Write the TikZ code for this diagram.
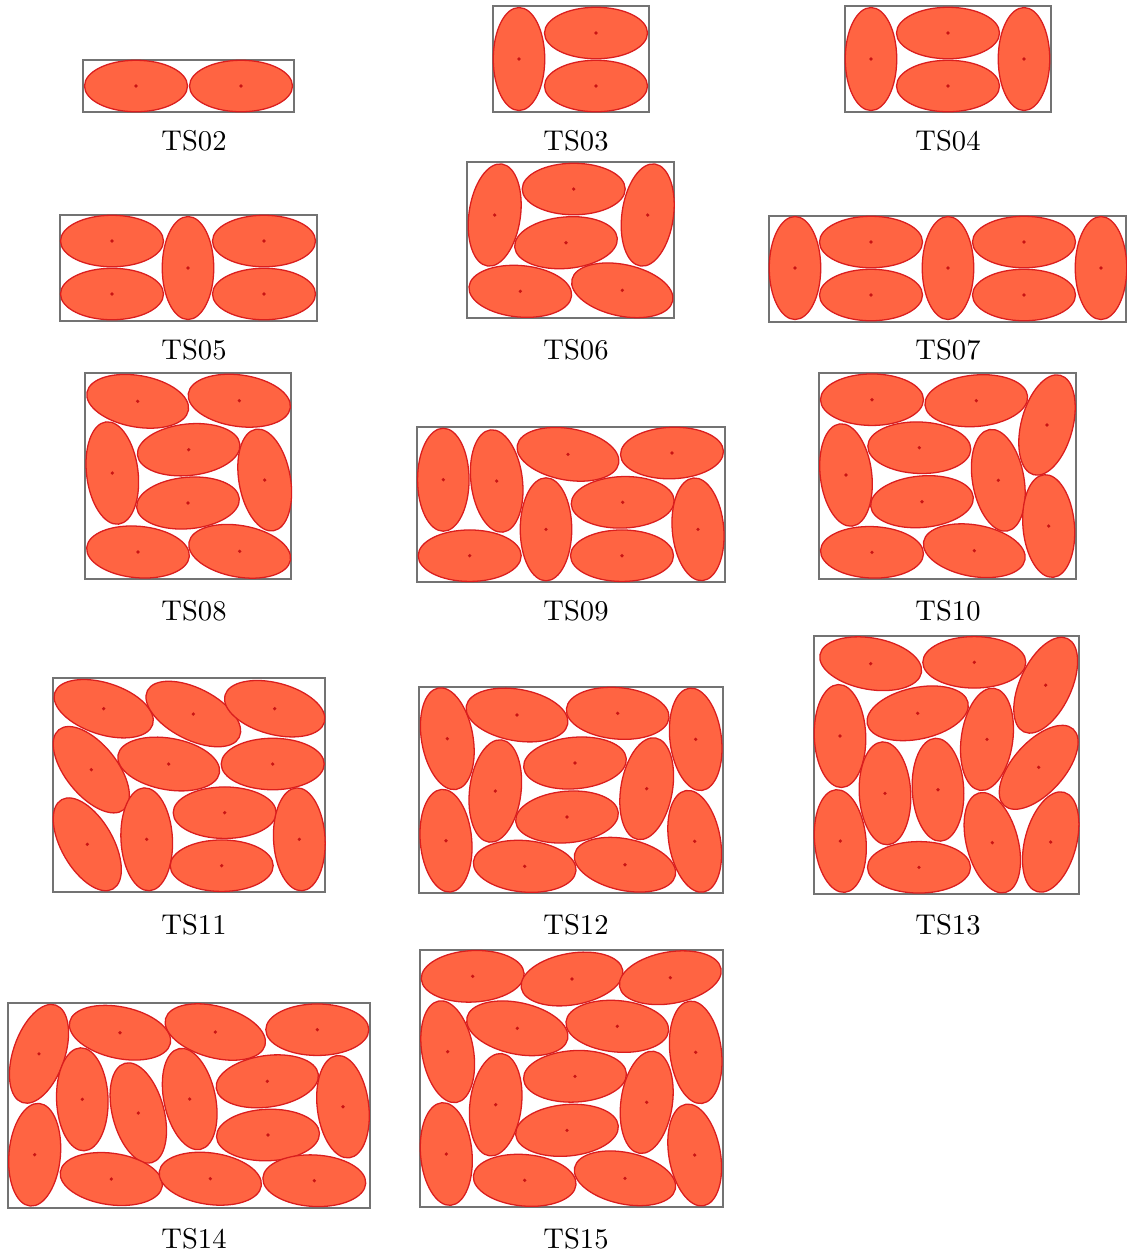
\documentclass[tikz,border=0pt]{standalone}
\usepackage{tikz}
\usetikzlibrary{positioning}

\definecolor{ellred}{RGB}{255,100,66}
\definecolor{ellrim}{RGB}{218,30,30}
\definecolor{ellcentre}{RGB}{200,20,20}

\tikzset{
  ellpiece/.style={fill=ellred, draw=ellrim, line width=0.45pt},
  centredot/.style={fill=ellcentre},
  container/.style={draw=black!55, line width=0.5pt},
  caption/.style={font=\normalsize, inner sep=1pt}
}

% one packed ellipse: centre x, centre y, angle of the long axis
\newcommand{\packell}[3]{%
  \filldraw[ellpiece, shift={(#1,#2)}, rotate=#3] (0,0) ellipse [x radius=51.5, y radius=25.75];
  \fill[centredot] (#1,#2) circle [radius=1.8];
}

\begin{document}
\begin{tikzpicture}[x=0.35pt, y=-0.35pt]
    \useasboundingbox (0,0) rectangle (1127,1256);

    % row 1
    \draw[container] (83,60) rectangle (294,112);
    \foreach \cx/\cy/\ang in {136/86/0, 241/86/0}
        {\packell{\cx}{\cy}{\ang}}
    \node[caption] (ts02) at (194,141) {TS02};

    \draw[container] (493,6) rectangle (649,112);
    \foreach \cx/\cy/\ang in {519/59/90, 596/33/0, 596/86/0}
        {\packell{\cx}{\cy}{\ang}}
    \node[caption] (ts03) at (576,141) {TS03};

    \draw[container] (845,6) rectangle (1051,112);
    \foreach \cx/\cy/\ang in {871/59/90, 1024/59/90, 948/33/0, 948/86/0}
        {\packell{\cx}{\cy}{\ang}}
    \node[caption] (ts04) at (948,141) {TS04};

    % row 2
    \draw[container] (60,215) rectangle (317,321);
    \foreach \cx/\cy/\ang in {112/241/0, 112/294/0, 264/241/0, 264/294/0, 188/268/90}
        {\packell{\cx}{\cy}{\ang}}
    \node[caption] (ts05) at (194,350) {TS05};

    \draw[container] (467,162) rectangle (674,318);
    \foreach \cx/\cy/\ang in {494.7/215/82, 573.7/189/0, 647.7/215/82, 566/242.7/5,
                              520.3/291.3/-5, 622.3/290.3/-12}
        {\packell{\cx}{\cy}{\ang}}
    \node[caption] (ts06) at (576,350) {TS06};

    \draw[container] (769,216) rectangle (1126,322);
    \foreach \cx/\cy/\ang in {795/268/90, 948/268/90, 1101/268/90, 871/242/0,
                              871/295/0, 1024/242/0, 1024/295/0}
        {\packell{\cx}{\cy}{\ang}}
    \node[caption] (ts07) at (948,350) {TS07};

    % row 3
    \draw[container] (85,373) rectangle (291,579);
    \foreach \cx/\cy/\ang in {137.7/401.3/-10, 239.3/400.7/-8, 112.3/473/97, 188.7/449.7/6,
                              188/503/5, 264.7/480/100, 138/552/-5, 239.7/551.3/-10}
        {\packell{\cx}{\cy}{\ang}}
    \node[caption] (ts08) at (194,611) {TS08};

    \draw[container] (417,427) rectangle (725,582);
    \foreach \cx/\cy/\ang in {443.3/479.7/90, 496.7/481/97, 568/454.3/-10, 672/453/2,
                              469.7/555.7/0, 546/529.3/90, 622.7/502.3/2, 622/555.7/0,
                              698/529.3/95}
        {\packell{\cx}{\cy}{\ang}}
    \node[caption] (ts09) at (576,611) {TS09};

    \draw[container] (819,373) rectangle (1076,579);
    \foreach \cx/\cy/\ang in {872/399.7/0, 976.3/400.7/5, 1047/425/75, 846/475/97,
                              919.3/447.7/-2, 922/501.7/5, 998.3/480.3/100, 1048.7/526/95,
                              872/552.3/-2, 974.3/550.7/-10}
        {\packell{\cx}{\cy}{\ang}}
    \node[caption] (ts10) at (948,611) {TS10};

    % row 4
    \draw[container] (53,678) rectangle (325,892);
    \foreach \cx/\cy/\ang in {103.7/708.7/-18, 193.3/714/-27, 274.7/708.7/-15, 91.3/769.7/-51,
                              168.7/764/-10, 272.7/764/0, 87.3/844.3/-60, 146.7/839.3/93,
                              224.7/812.7/0, 221.7/865.7/0, 299.3/839.3/93}
        {\packell{\cx}{\cy}{\ang}}
    \node[caption] (ts11) at (194,925) {TS11};

    \draw[container] (419,687) rectangle (723,893);
    \foreach \cx/\cy/\ang in {447.3/738.7/100, 517/715/-10, 617.7/713.3/-5, 695.7/739.3/97,
                              495.3/791/83, 575/763/5, 567/817/5, 646.7/788.7/80,
                              446/840.7/95, 524.7/866.3/-5, 625/864.7/-12, 694.7/841.3/100}
        {\packell{\cx}{\cy}{\ang}}
    \node[caption] (ts12) at (576,925) {TS12};

    \draw[container] (814,636) rectangle (1079,894);
    \foreach \cx/\cy/\ang in {870.7/663.7/-10, 974.3/662.3/0, 1045.7/685.2/65, 840/736/92,
                              917.7/713.3/12, 987/739.3/82, 1038.7/767.3/48, 885/793.3/93,
                              938/789.7/93, 840.3/841/95, 919/867.3/0, 992.3/842.7/105,
                              1050.7/842/75}
        {\packell{\cx}{\cy}{\ang}}
    \node[caption] (ts13) at (948,925) {TS13};

    % row 5
    \draw[container] (8,1003) rectangle (370,1208);
    \foreach \cx/\cy/\ang in {39/1053.8/71, 120/1032.7/-12, 215.3/1032/-15, 317.3/1029.7/0,
                              34.7/1154.7/85, 82.3/1099.3/92, 138.3/1113/105, 189.7/1099/102,
                              267.3/1081.3/8, 268/1135/2, 343/1106.7/97, 111.3/1179/-8,
                              210.3/1178.7/-8, 314.3/1180.7/-3}
        {\packell{\cx}{\cy}{\ang}}
    \node[caption] (ts14) at (194,1239) {TS14};

    \draw[container] (420,950) rectangle (723,1207);
    \foreach \cx/\cy/\ang in {472.7/976.3/3, 572/979/10, 670.3/977.7/10, 447.7/1051.7/100,
                              517.3/1028.3/-12, 617.3/1026.3/-5, 695.7/1052.3/97, 495.7/1104.7/83,
                              575/1076.3/3, 567/1130.3/5, 646.7/1102.3/82, 446.3/1154/95,
                              524.7/1180.3/-5, 625/1178.3/-12, 694.7/1155/100}
        {\packell{\cx}{\cy}{\ang}}
    \node[caption] (ts15) at (576,1239) {TS15};
\end{tikzpicture}
\end{document}
